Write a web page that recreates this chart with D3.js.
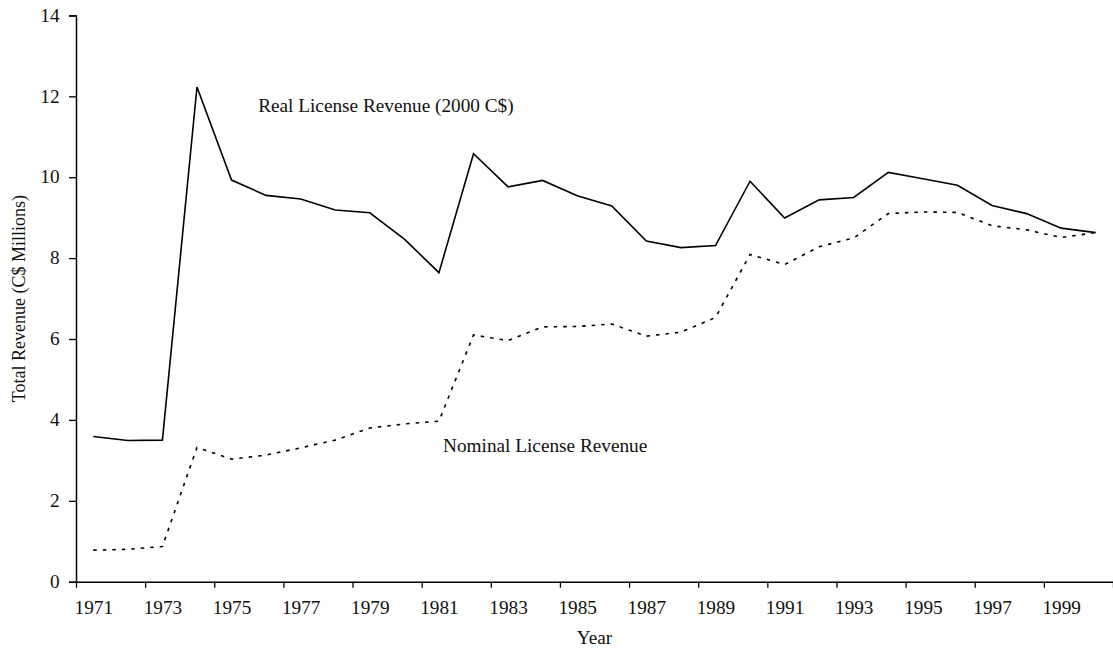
<!DOCTYPE html>
<html>
<head>
<meta charset="utf-8">
<script src="https://cdn.jsdelivr.net/npm/d3@7"></script>
<style>
  html, body { margin: 0; padding: 0; background: #fff; }
  svg { display: block; }
  text { font-family: "Liberation Serif", "Times New Roman", serif; fill: #111; }
</style>
</head>
<body>
<svg id="chart" width="1113" height="652"></svg>
<script>
// ---- data ----
const years = d3.range(1971, 2001);
const realRevenue = [3.59, 3.49, 3.50, 12.23, 9.93, 9.55, 9.46, 9.19, 9.12, 8.47,
                     7.64, 10.58, 9.76, 9.92, 9.54, 9.29, 8.42, 8.26, 8.31, 9.90,
                     8.99, 9.44, 9.50, 10.12, 9.96, 9.80, 9.30, 9.10, 8.74, 8.63];
const nominalRevenue = [0.78, 0.80, 0.87, 3.32, 3.03, 3.13, 3.31, 3.50, 3.80, 3.90,
                        3.97, 6.10, 5.96, 6.30, 6.31, 6.37, 6.07, 6.17, 6.53, 8.09,
                        7.84, 8.28, 8.50, 9.10, 9.14, 9.13, 8.80, 8.70, 8.51, 8.63];
const yTicks = [0, 2, 4, 6, 8, 10, 12, 14];
const xLabelYears = d3.range(1971, 2000, 2);
const xTickBoundaries = d3.range(1970.5, 2001, 2);
const seriesLabels = [
  { text: "Real License Revenue (2000 C$)", year: 1975.77, value: 11.61 },
  { text: "Nominal License Revenue", year: 1981.12, value: 3.21 }
];

// ---- layout ----
const svg = d3.select("#chart");
const plotLeft = 76, plotRight = 1113, plotTop = 15.4, plotBottom = 581.7;

const x = d3.scaleLinear().domain([1970.5, 2000.5]).range([plotLeft, plotRight]);
const y = d3.scaleLinear().domain([0, 14]).range([plotBottom, plotTop]);

const fontSize = 18;
const stretch = "scale(1.07,1)";

// y axis
const yAxis = svg.append("g")
  .attr("transform", `translate(${plotLeft},0)`)
  .call(d3.axisLeft(y).tickValues(yTicks).tickSize(7).tickPadding(8.4).tickFormat(d3.format("d")));
yAxis.select(".domain").attr("stroke", "#000").attr("stroke-width", 1.5);
yAxis.selectAll(".tick line").attr("stroke", "#000").attr("stroke-width", 1.3);
yAxis.selectAll(".tick text").attr("font-size", fontSize).attr("fill", "#111")
  .attr("font-family", "Liberation Serif").attr("transform", stretch);

// x axis (tick marks at category boundaries)
const xAxisTicks = svg.append("g")
  .attr("transform", `translate(0,${plotBottom})`)
  .call(d3.axisBottom(x).tickValues(xTickBoundaries).tickSize(6).tickSizeOuter(0).tickFormat(""));
xAxisTicks.select(".domain").attr("stroke", "#000").attr("stroke-width", 1.5);
xAxisTicks.selectAll(".tick line").attr("stroke", "#000").attr("stroke-width", 1.3);

// x labels centred on categories
const xAxisLabels = svg.append("g")
  .attr("transform", `translate(0,${plotBottom})`)
  .call(d3.axisBottom(x).tickValues(xLabelYears).tickSize(0).tickPadding(19.5).tickFormat(d3.format("d")));
xAxisLabels.select(".domain").remove();
xAxisLabels.selectAll(".tick text").attr("font-size", fontSize).attr("fill", "#111")
  .attr("font-family", "Liberation Serif").attr("transform", stretch);

// axis titles
svg.append("text")
  .attr("transform", `translate(${x(1985.5)},644) ${stretch}`)
  .attr("text-anchor", "middle").attr("font-size", fontSize)
  .text("Year");

svg.append("text")
  .attr("transform", `translate(25,${(plotTop + plotBottom) / 2}) rotate(-90)`)
  .attr("text-anchor", "middle").attr("font-size", fontSize)
  .text("Total Revenue (C$ Millions)");

// lines
const line = d3.line()
  .x((d, i) => x(years[i]))
  .y(d => y(d));

svg.append("path")
  .datum(nominalRevenue)
  .attr("fill", "none").attr("stroke", "#000").attr("stroke-width", 1.6)
  .attr("stroke-dasharray", "3.5,6")
  .attr("d", line);

svg.append("path")
  .datum(realRevenue)
  .attr("fill", "none").attr("stroke", "#000").attr("stroke-width", 1.6)
  .attr("stroke-linejoin", "miter")
  .attr("d", line);

// series labels
svg.selectAll("text.series-label")
  .data(seriesLabels)
  .enter().append("text")
  .attr("class", "series-label")
  .attr("transform", d => `translate(${x(d.year)},${y(d.value)}) ${stretch}`)
  .attr("font-size", fontSize)
  .text(d => d.text);
</script>
</body>
</html>
